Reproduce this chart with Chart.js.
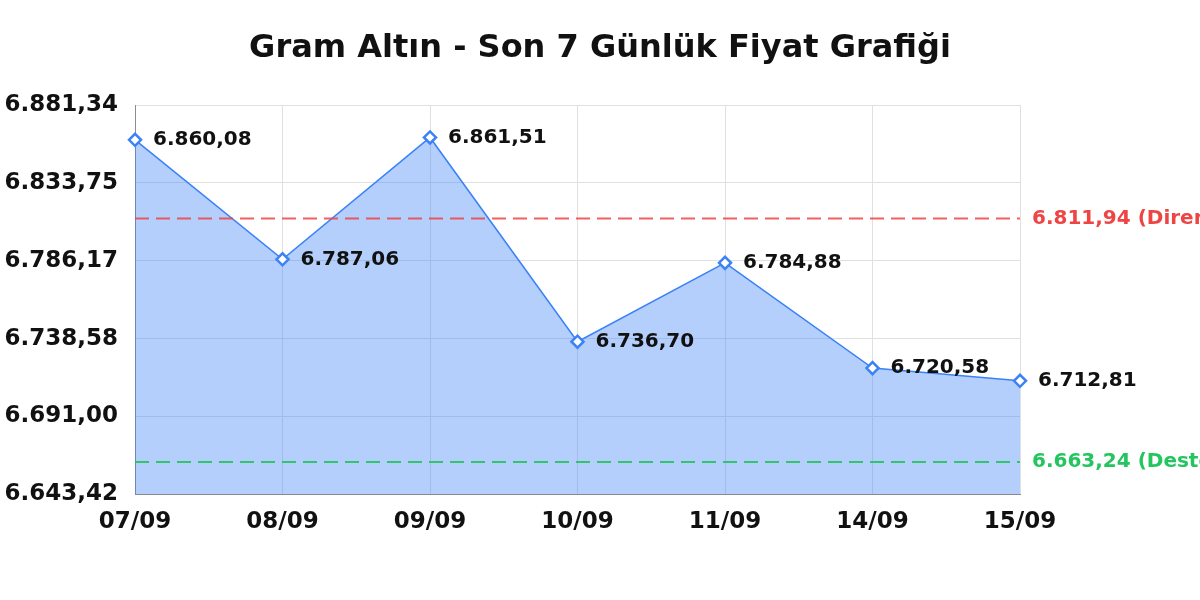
<!DOCTYPE html>
<html>
<head>
<meta charset="utf-8">
<script src="https://cdn.jsdelivr.net/npm/chart.js@4.4.1/dist/chart.umd.min.js"></script>
<style>
  body { margin: 0; background: #fff; }
  canvas { display: block; }
</style>
</head>
<body>
<canvas id="goldChart" width="1200" height="600"></canvas>
<script>
// Veriler
const dayLabels = ['07/09', '08/09', '09/09', '10/09', '11/09', '14/09', '15/09'];
const gramPrices = [6860.08, 6787.06, 6861.51, 6736.70, 6784.88, 6720.58, 6712.81];
const yTickLabels = ['6.643,42', '6.691,00', '6.738,58', '6.786,17', '6.833,75', '6.881,34'];
const yMin = 6643.42;
const yMax = 6881.34;
const resistanceLevel = 6811.94;
const supportLevel = 6663.24;
const chartTitle = 'Gram Altın - Son 7 Günlük Fiyat Grafiği';

// 6860.08 -> "6.860,08"
function formatTr(v) {
  const parts = v.toFixed(2).split('.');
  const intPart = parts[0].replace(/\B(?=(\d{3})+(?!\d))/g, '.');
  return intPart + ',' + parts[1];
}

const refLines = [
  { value: resistanceLevel, text: formatTr(resistanceLevel) + ' (Direnç)', color: '#ef4444', dash: 'rgba(239, 68, 68, 0.85)' },
  { value: supportLevel, text: formatTr(supportLevel) + ' (Destek)', color: '#22c55e', dash: 'rgba(34, 197, 94, 0.9)' }
];

Chart.defaults.font.family = "'DejaVu Sans', sans-serif";

const ctx = document.getElementById('goldChart').getContext('2d');
new Chart(ctx, {
  type: 'line',
  data: {
    labels: dayLabels,
    datasets: [{
      data: gramPrices,
      borderColor: '#3b82f6',
      borderWidth: 1.5,
      backgroundColor: 'rgba(59, 130, 246, 0.38)',
      fill: 'start',
      tension: 0,
      pointStyle: 'rectRot',
      pointRadius: 6,
      pointBorderWidth: 2.5,
      pointBackgroundColor: '#ffffff',
      pointBorderColor: '#3b82f6'
    }]
  },
  options: {
    responsive: false,
    animation: false,
    layout: { padding: { left: 5, right: 180, top: 105, bottom: 50 } },
    plugins: {
      legend: { display: false },
      tooltip: { enabled: false },
      title: { display: false }
    },
    scales: {
      x: {
        offset: false,
        grid: { color: '#e0e0e0', drawTicks: false },
        border: { color: '#8c8c8c' },
        ticks: { color: '#111', font: { size: 23, weight: 'bold' }, padding: 14, maxRotation: 0 }
      },
      y: {
        min: yMin,
        max: yMax,
        grid: { color: '#e0e0e0', drawTicks: false },
        border: { color: '#8c8c8c' },
        afterBuildTicks: (scale) => {
          scale.ticks = yTickLabels.map((t, i) => ({ value: yMin + i * (yMax - yMin) / (yTickLabels.length - 1) }));
        },
        afterFit: (scale) => { scale.width = 130; },
        ticks: {
          color: '#111',
          font: { size: 23, weight: 'bold' },
          padding: 17,
          callback: (value, index) => yTickLabels[index]
        }
      }
    }
  },
  plugins: [{
    id: 'canvasTitle',
    // Başlık tüm tuvalin ortasına
    afterDraw: (chart) => {
      const c = chart.ctx;
      c.save();
      c.fillStyle = '#111';
      c.font = "bold 32px 'DejaVu Sans'";
      c.textAlign = 'center';
      c.textBaseline = 'middle';
      c.fillText(chartTitle, chart.width / 2, 49);
      c.restore();
    }
  }, {
    id: 'refLinesAndLabels',
    afterDatasetsDraw: (chart) => {
      const c = chart.ctx;
      const area = chart.chartArea;
      const yScale = chart.scales.y;
      c.save();
      // Direnç / destek çizgileri
      refLines.forEach(line => {
        const y = yScale.getPixelForValue(line.value);
        c.strokeStyle = line.dash;
        c.lineWidth = 2;
        c.setLineDash([14, 7]);
        c.beginPath();
        c.moveTo(area.left, y);
        c.lineTo(area.right, y);
        c.stroke();
        c.setLineDash([]);
        c.fillStyle = line.color;
        c.font = "bold 20px 'DejaVu Sans'";
        c.textAlign = 'left';
        c.textBaseline = 'middle';
        c.fillText(line.text, area.right + 12, y);
      });
      // Nokta etiketleri
      const meta = chart.getDatasetMeta(0);
      c.fillStyle = '#111';
      c.font = "bold 20px 'DejaVu Sans'";
      c.textAlign = 'left';
      c.textBaseline = 'middle';
      meta.data.forEach((pt, i) => {
        c.fillText(formatTr(gramPrices[i]), pt.x + 18, pt.y);
      });
      c.restore();
    }
  }]
});
</script>
</body>
</html>
